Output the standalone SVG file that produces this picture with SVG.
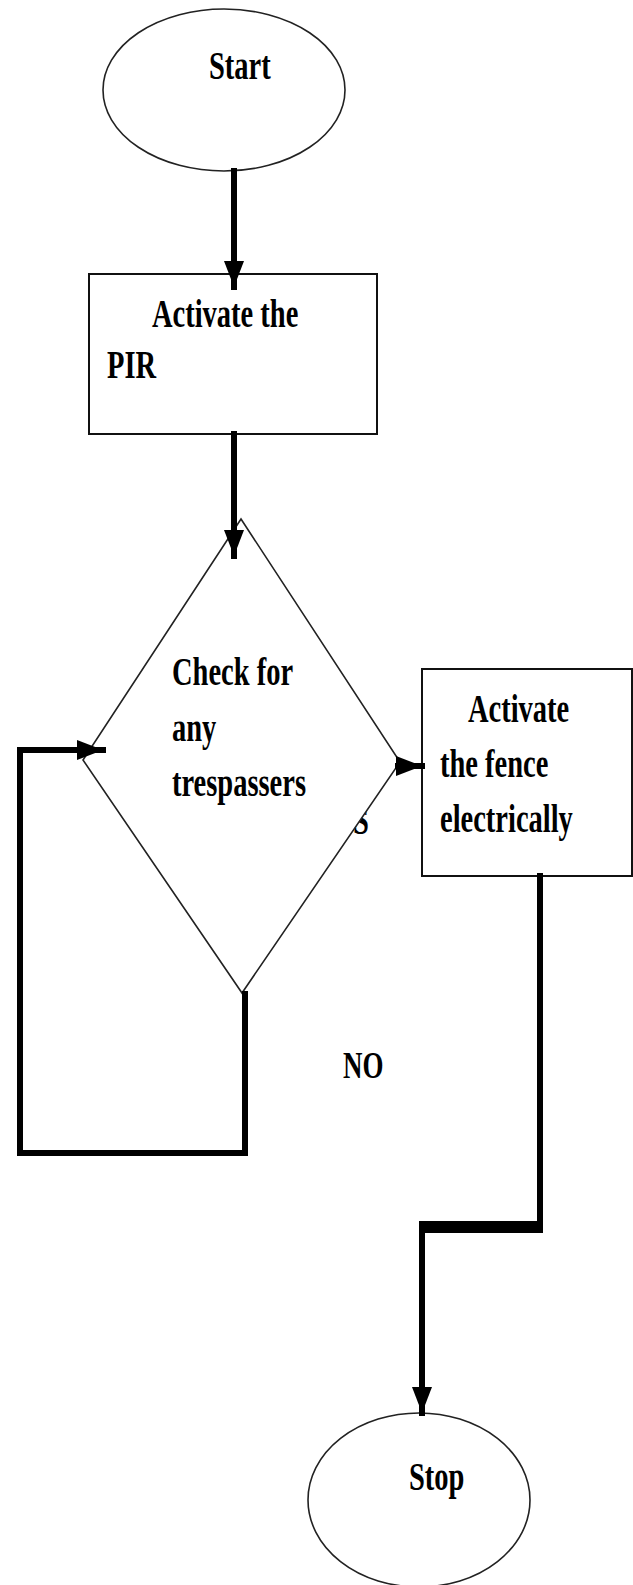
<svg xmlns="http://www.w3.org/2000/svg" width="633" height="1585" viewBox="0 0 633 1585">
<style>
.shape{fill:#fff;stroke:#222;stroke-width:1.6}
.box{fill:#fff;stroke:#111;stroke-width:2}
.t{font-family:"Liberation Serif","Times New Roman",serif;font-weight:bold;font-size:28.5px;fill:#000}
.c{fill:none;stroke:#000;stroke-width:6;stroke-linejoin:miter;stroke-linecap:square}
</style>
<defs>
<marker id="arr" viewBox="0 0 26 20" refX="26" refY="10" markerWidth="26" markerHeight="20" markerUnits="userSpaceOnUse" orient="auto">
<path d="M0,0 L26,10 L0,20 z" fill="#000"/>
</marker>
</defs>
<rect width="633" height="1585" fill="#fff"/>
<text class="t" transform="translate(353,834) scale(1,1.38)">S</text>
<g id="start">
<ellipse class="shape" cx="224" cy="90" rx="121" ry="81"/>
<text class="t" transform="translate(209,79) scale(1,1.38)">Start</text>
</g>
<g id="activate-pir">
<rect class="box" x="89" y="274" width="288" height="160"/>
<text class="t" transform="translate(152,327) scale(1,1.38)">Activate the</text>
<text class="t" transform="translate(107,378) scale(1,1.38)">PIR</text>
</g>
<g id="check">
<polygon class="shape" points="241,519 400,762 242,993 83,760"/>
<text class="t" transform="translate(172,685) scale(1,1.38)">Check for</text>
<text class="t" transform="translate(172,741) scale(1,1.38)">any</text>
<text class="t" transform="translate(172,796) scale(1,1.38)">trespassers</text>
</g>
<g id="activate-fence">
<rect class="box" x="422" y="669" width="210" height="207"/>
<text class="t" transform="translate(468,722) scale(1,1.38)">Activate</text>
<text class="t" transform="translate(440,777) scale(1,1.38)">the fence</text>
<text class="t" transform="translate(440,832) scale(1,1.38)">electrically</text>
</g>
<g id="stop">
<ellipse class="shape" cx="419" cy="1500" rx="111" ry="87"/>
<text class="t" transform="translate(409,1490) scale(1,1.38)">Stop</text>
</g>
<text class="t" transform="translate(343,1078) scale(1,1.38)" style="font-size:27px">NO</text>
<g id="connectors">
<path class="c" d="M234,171 V287" stroke-linecap="butt" marker-end="url(#arr)"/>
<path class="c" d="M234,434 V556" stroke-linecap="butt" marker-end="url(#arr)"/>
<path class="c" d="M398,766 H422" stroke-linecap="butt" marker-end="url(#arr)"/>
<path class="c" d="M245,994 V1153 H20 V750 H103" stroke-width="7" marker-end="url(#arr)"/>
<path class="c" d="M540,876 V1227" stroke-linecap="butt"/>
<path d="M543,1221 H419 V1233 H543 z" fill="#000"/>
<path class="c" d="M422,1227 V1413" stroke-linecap="butt" marker-end="url(#arr)"/>
</g>
</svg>
